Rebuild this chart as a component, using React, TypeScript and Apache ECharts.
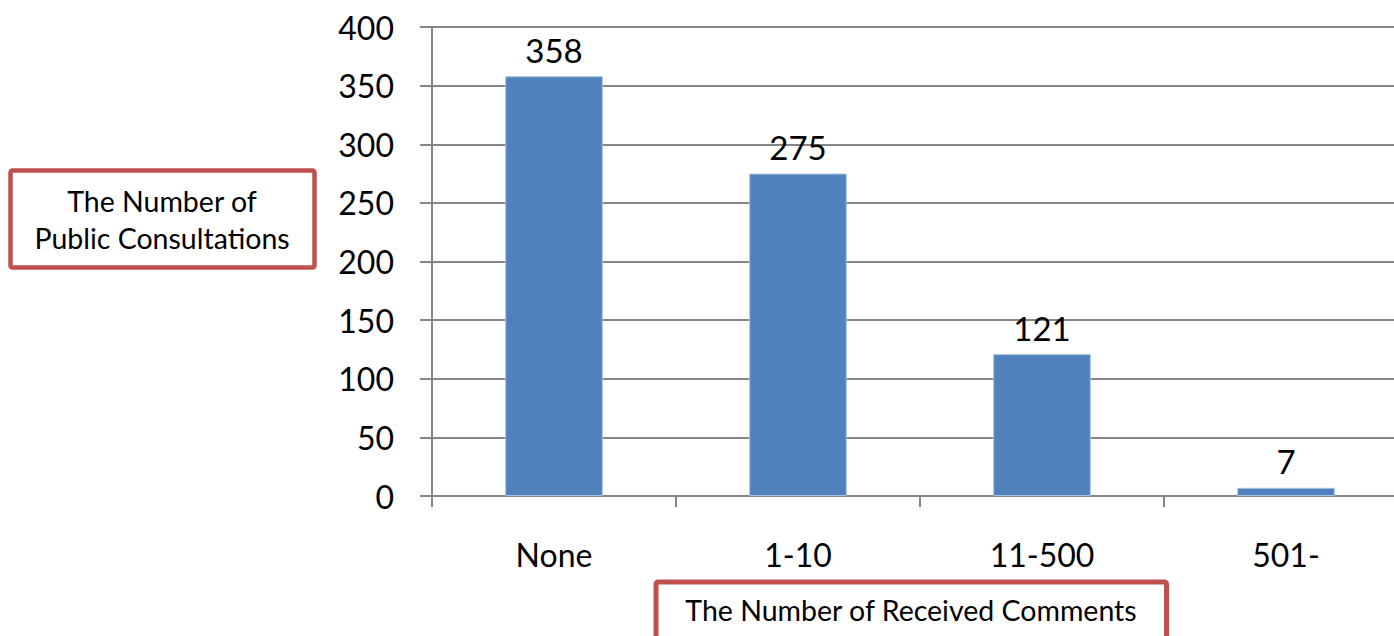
import React, { useEffect, useRef } from "react";
import * as echarts from "echarts";

const categories = ["None", "1-10", "11-500", "501-"];
const values = [358, 275, 121, 7];
const yTitleLines = ["The Number of", "Public Consultations"];
const xTitle = "The Number of Received Comments";

const FONT = "Lato, 'Open Sans', sans-serif";
const RED = "#C0504D";

export default function App() {
  const ref = useRef<HTMLDivElement>(null);
  useEffect(() => {
    document.body.style.margin = "0";
    const chart = echarts.init(ref.current!, null, { renderer: "svg" });
    chart.setOption({
      animation: false,
      backgroundColor: "#ffffff",
      textStyle: { fontFamily: FONT },
      grid: {
        left: 432,
        top: 27,
        width: 976,
        height: 469,
        containLabel: false,
        outerBoundsMode: "none",
      },
      xAxis: {
        type: "category",
        data: categories,
        boundaryGap: true,
        axisLine: { show: true, lineStyle: { color: "#868686", width: 2 } },
        axisTick: { show: true, length: 11, alignWithLabel: false, lineStyle: { color: "#868686", width: 2 } },
        axisLabel: { color: "#000", fontSize: 32, fontFamily: FONT, margin: 42 },
        splitLine: { show: false },
      },
      yAxis: {
        type: "value",
        min: 0,
        max: 400,
        interval: 50,
        axisLine: { show: true, lineStyle: { color: "#868686", width: 2 } },
        axisTick: { show: true, length: 12, lineStyle: { color: "#868686", width: 2 } },
        splitLine: { show: true, lineStyle: { color: "#868686", width: 2 } },
        axisLabel: { color: "#000", fontSize: 32, fontFamily: FONT, margin: 38 },
      },
      series: [
        {
          type: "bar",
          data: values,
          barWidth: "40%",
          itemStyle: { color: "#4F81BD", borderColor: "#A9C2E0", borderWidth: 1 },
          label: {
            show: true,
            position: "top",
            distance: 10,
            color: "#000",
            fontSize: 33,
            fontFamily: FONT,
          },
        },
      ],
      graphic: [
        {
          type: "rect",
          shape: { x: 10.5, y: 170.5, width: 304, height: 97, r: 2 },
          style: { fill: "#fff", stroke: RED, lineWidth: 4.5 },
          z: 100,
        },
        {
          type: "text",
          x: 162,
          y: 219,
          z: 101,
          style: {
            text: yTitleLines.join("\n"),
            fontSize: 28.5,
            fontFamily: FONT,
            fill: "#000",
            align: "center",
            verticalAlign: "middle",
            lineHeight: 37,
          },
        },
        {
          type: "rect",
          shape: { x: 656, y: 582, width: 510.5, height: 100, r: 2 },
          style: { fill: "#fff", stroke: RED, lineWidth: 5 },
          z: 100,
        },
        {
          type: "text",
          x: 911,
          y: 610,
          z: 101,
          style: {
            text: xTitle,
            fontSize: 28.5,
            fontFamily: FONT,
            fill: "#000",
            align: "center",
            verticalAlign: "middle",
          },
        },
      ],
    });
    return () => chart.dispose();
  }, []);
  return <div ref={ref} style={{ width: 1394, height: 636 }} />;
}
